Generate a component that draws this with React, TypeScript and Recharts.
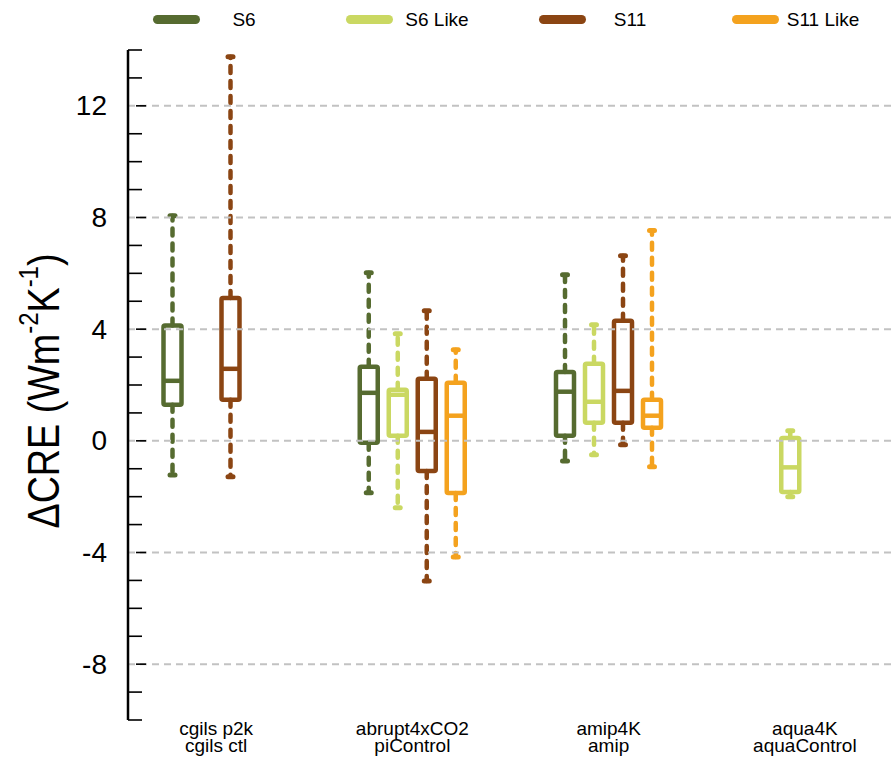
import { ComposedChart, Bar, XAxis, YAxis, ReferenceLine, Legend, Label } from 'recharts';

const categories = ['cgils', 'abrupt4xCO2', 'amip4K', 'aqua4K'];
const labelTop = ['cgils p2k', 'abrupt4xCO2', 'amip4K', 'aqua4K'];
const labelBottom = ['cgils ctl', 'piControl', 'amip', 'aquaControl'];

const seriesNames = ['S6', 'S6 Like', 'S11', 'S11 Like'];
const seriesColors = ['#566b30', '#cad862', '#8b4513', '#f4a21e'];

// [min, q1, median, q3, max] per category, null = no box
const s6 = [
  [-1.22, 1.29, 2.15, 4.13, 8.06],
  [-1.86, -0.07, 1.72, 2.65, 6.02],
  [-0.72, 0.18, 1.76, 2.47, 5.95],
  null,
];
const s6Like = [
  null,
  [-2.4, 0.18, 1.65, 1.83, 3.84],
  [-0.5, 0.65, 1.4, 2.76, 4.16],
  [-2.0, -1.83, -0.95, 0.1, 0.36],
];
const s11 = [
  [-1.29, 1.47, 2.58, 5.12, 13.76],
  [-5.02, -1.08, 0.32, 2.22, 4.66],
  [-0.14, 0.65, 1.79, 4.3, 6.63],
  null,
];
const s11Like = [
  null,
  [-4.16, -1.87, 0.9, 2.08, 3.26],
  [-0.93, 0.47, 0.9, 1.47, 7.53],
  null,
];

const yTicks = [-10, -9, -8, -7, -6, -5, -4, -3, -2, -1, 0, 1, 2, 3, 4, 5, 6, 7, 8, 9, 10, 11, 12, 13, 14];
const yLabels = [-8, -4, 0, 4, 8, 12];

const FONT = '"Liberation Sans", Arial, Helvetica, sans-serif';
const allStats = [s6, s6Like, s11, s11Like];

const data = categories.map((c, i) => {
  const row: any = { category: c };
  allStats.forEach((st, k) => {
    const s = st[i];
    row[`k${k}`] = s ? [s[0], s[4]] : null;
    row[`stats${k}`] = s;
  });
  return row;
});

function BoxShape(props: any) {
  const { x, y, width, height, stats, color } = props;
  if (!stats || height == null || isNaN(y)) return <g />;
  const [mn, q1, md, q3, mx] = stats;
  const top = Math.min(y, y + height);
  const h = Math.abs(height);
  const py = (v: number) => top + ((mx - v) / (mx - mn)) * h;
  const cx = x + width / 2;
  const bw = 18;
  const sw = 4.5;
  return (
    <g>
      <line x1={cx} x2={cx} y1={py(q3)} y2={py(mx)} stroke={color} strokeWidth={sw} strokeDasharray="7 8" strokeLinecap="round" />
      <line x1={cx} x2={cx} y1={py(q1)} y2={py(mn)} stroke={color} strokeWidth={sw} strokeDasharray="7 8" strokeLinecap="round" />
      <line x1={cx - 2.5} x2={cx + 2.5} y1={py(mx)} y2={py(mx)} stroke={color} strokeWidth={sw + 0.5} strokeLinecap="round" />
      <line x1={cx - 2.5} x2={cx + 2.5} y1={py(mn)} y2={py(mn)} stroke={color} strokeWidth={sw + 0.5} strokeLinecap="round" />
      <rect x={cx - bw / 2} y={py(q3)} width={bw} height={py(q1) - py(q3)} fill="none" stroke={color} strokeWidth={sw} rx={1.5} />
      <line x1={cx - bw / 2} x2={cx + bw / 2} y1={py(md)} y2={py(md)} stroke={color} strokeWidth={sw} />
    </g>
  );
}

function YTick(props: any) {
  const { x, y, payload } = props;
  const v = payload.value;
  const major = yLabels.includes(v);
  return (
    <g>
      {major ? (
        <>
          <line x1={x + 8} x2={x + 18} y1={y} y2={y} stroke="#000" strokeWidth={1.6} />
          <text x={x - 21} y={y} textAnchor="end" dominantBaseline="central" fontSize={28} fontFamily={FONT} fill="#000">
            {v}
          </text>
        </>
      ) : (
        <line x1={x} x2={x + 14} y1={y} y2={y} stroke="#000" strokeWidth={1.6} />
      )}
    </g>
  );
}

function XTick(props: any) {
  const { x, y, payload, index } = props;
  const i = index ?? categories.indexOf(payload.value);
  return (
    <g fontFamily={FONT} fontSize={19} fill="#000">
      <text x={x} y={y + 15} textAnchor="middle">{labelTop[i]}</text>
      <text x={x} y={y + 32} textAnchor="middle">{labelBottom[i]}</text>
    </g>
  );
}

function YLabel() {
  return (
    <text
      x={59}
      y={391}
      transform="rotate(-90, 59, 391)"
      textAnchor="middle"
      fontFamily={FONT}
      fontSize={44}
      fill="#000"
      textLength={275}
      lengthAdjust="spacingAndGlyphs"
    >
      ΔCRE (Wm<tspan dy={-21} fontSize={28}>-2</tspan>
      <tspan dy={21}>K</tspan>
      <tspan dy={-21} fontSize={28}>-1</tspan>
      <tspan dy={21}>)</tspan>
    </text>
  );
}

function LegendContent() {
  return (
    <div style={{ position: 'relative', width: 893, height: 40, fontFamily: FONT }}>
      {seriesNames.map((n, i) => (
        <div key={n}>
          <div
            style={{
              position: 'absolute',
              left: 153 + 193 * i,
              top: 15,
              width: 47,
              height: 9,
              borderRadius: 5,
              background: seriesColors[i],
            }}
          />
          <div
            style={{
              position: 'absolute',
              left: 244 + 193 * i - 60,
              width: 120,
              top: 9,
              textAlign: 'center',
              fontSize: 19,
              lineHeight: '22px',
              color: '#000',
            }}
          >
            {n}
          </div>
        </div>
      ))}
    </div>
  );
}

export default function App() {
  return (
    <div style={{ width: 893, height: 762, background: '#fff' }}>
      <style>{'body{margin:0;background:#fff}'}</style>
      <ComposedChart
        width={893}
        height={762}
        data={data}
        margin={{ top: 50, right: 0, bottom: 0, left: 0 }}
        barCategoryGap={40}
        barGap={0}
      >
        <XAxis
          dataKey="category"
          type="category"
          height={42}
          axisLine={false}
          tickLine={false}
          tickSize={0}
          tickMargin={0}
          padding={{ left: -10, right: -10 }}
          tick={<XTick />}
          interval={0}
        />
        <YAxis
          type="number"
          domain={[-10, 14]}
          ticks={yTicks}
          interval={0}
          width={128}
          axisLine={{ stroke: '#000', strokeWidth: 2.5 }}
          tickLine={false}
          tickSize={0}
          tickMargin={0}
          tick={<YTick />}
          allowDataOverflow
        >
          <Label content={<YLabel />} />
        </YAxis>
        {yLabels.map((v) => (
          <ReferenceLine key={v} y={v} stroke="#c2c2c2" strokeWidth={2} strokeDasharray="7 5" />
        ))}
        {seriesNames.map((n, k) => (
          <Bar
            key={n}
            dataKey={`k${k}`}
            name={n}
            fill={seriesColors[k]}
            isAnimationActive={false}
            shape={(p: any) => <BoxShape {...p} stats={p.payload[`stats${k}`]} color={seriesColors[k]} />}
          />
        ))}
        <Legend
          layout="horizontal"
          verticalAlign="middle"
          align="center"
          wrapperStyle={{ top: 0, left: 0, width: 893, height: 40 }}
          content={<LegendContent />}
        />
      </ComposedChart>
    </div>
  );
}
